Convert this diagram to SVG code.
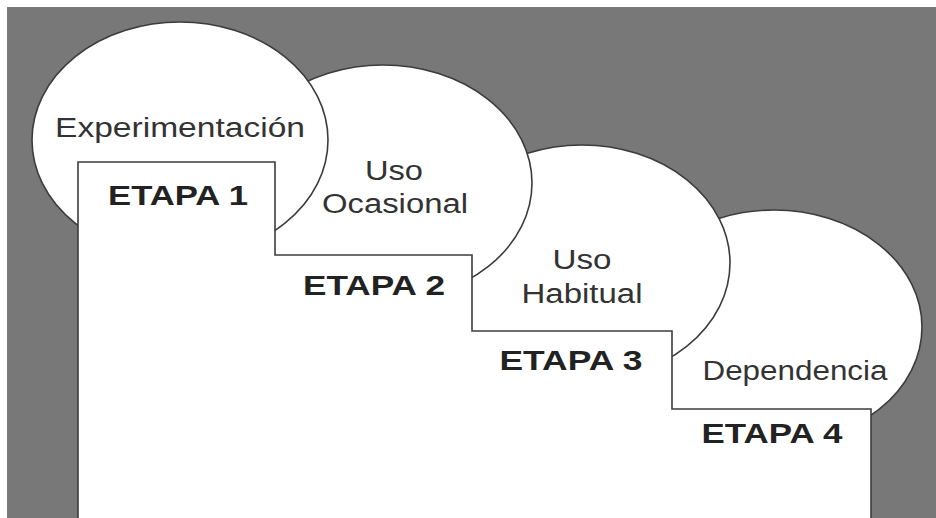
<svg xmlns="http://www.w3.org/2000/svg" width="936" height="518" viewBox="0 0 936 518">
<style>
.bub{fill:#ffffff;stroke:#3c3c3c;stroke-width:1.6}
.step{fill:#ffffff;stroke:#3c3c3c;stroke-width:1.6}
.lbl{font-family:"Liberation Sans",Arial,sans-serif;font-size:27px;fill:#333333;text-anchor:middle}
.stg{font-family:"Liberation Sans",Arial,sans-serif;font-size:28px;font-weight:bold;fill:#222222;text-anchor:middle}
</style>
<rect x="0" y="0" width="936" height="518" fill="#ffffff"/>
<rect x="7" y="7" width="929" height="511" fill="#787878"/>
<g id="connectors"></g>
<g id="bubble4"><ellipse class="bub" cx="774" cy="327" rx="148" ry="117"/></g>
<g id="bubble3"><ellipse class="bub" cx="582" cy="263" rx="148" ry="118"/></g>
<g id="bubble2"><ellipse class="bub" cx="383" cy="183" rx="149" ry="118"/></g>
<g id="bubble1"><ellipse class="bub" cx="180" cy="140" rx="148" ry="118"/></g>
<g id="stairs">
<polygon class="step" points="78,520 78,162 275,162 275,255 472,255 472,331 672,331 672,409 871,409 871,520"/>
</g>
<g id="label1"><text class="lbl" x="180" y="137" textLength="250" lengthAdjust="spacingAndGlyphs">Experimentación</text></g>
<g id="label2"><text class="lbl" x="394" y="180" textLength="58" lengthAdjust="spacingAndGlyphs">Uso</text><text class="lbl" x="395" y="213" textLength="146" lengthAdjust="spacingAndGlyphs">Ocasional</text></g>
<g id="label3"><text class="lbl" x="582" y="269" textLength="59" lengthAdjust="spacingAndGlyphs">Uso</text><text class="lbl" x="582" y="303" textLength="121" lengthAdjust="spacingAndGlyphs">Habitual</text></g>
<g id="label4"><text class="lbl" x="795" y="380" textLength="185" lengthAdjust="spacingAndGlyphs">Dependencia</text></g>
<g id="stage1"><text class="stg" x="178" y="205" textLength="140" lengthAdjust="spacingAndGlyphs">ETAPA 1</text></g>
<g id="stage2"><text class="stg" x="374" y="295" textLength="142" lengthAdjust="spacingAndGlyphs">ETAPA 2</text></g>
<g id="stage3"><text class="stg" x="571" y="370" textLength="143" lengthAdjust="spacingAndGlyphs">ETAPA 3</text></g>
<g id="stage4"><text class="stg" x="772" y="443" textLength="141" lengthAdjust="spacingAndGlyphs">ETAPA 4</text></g>
</svg>
